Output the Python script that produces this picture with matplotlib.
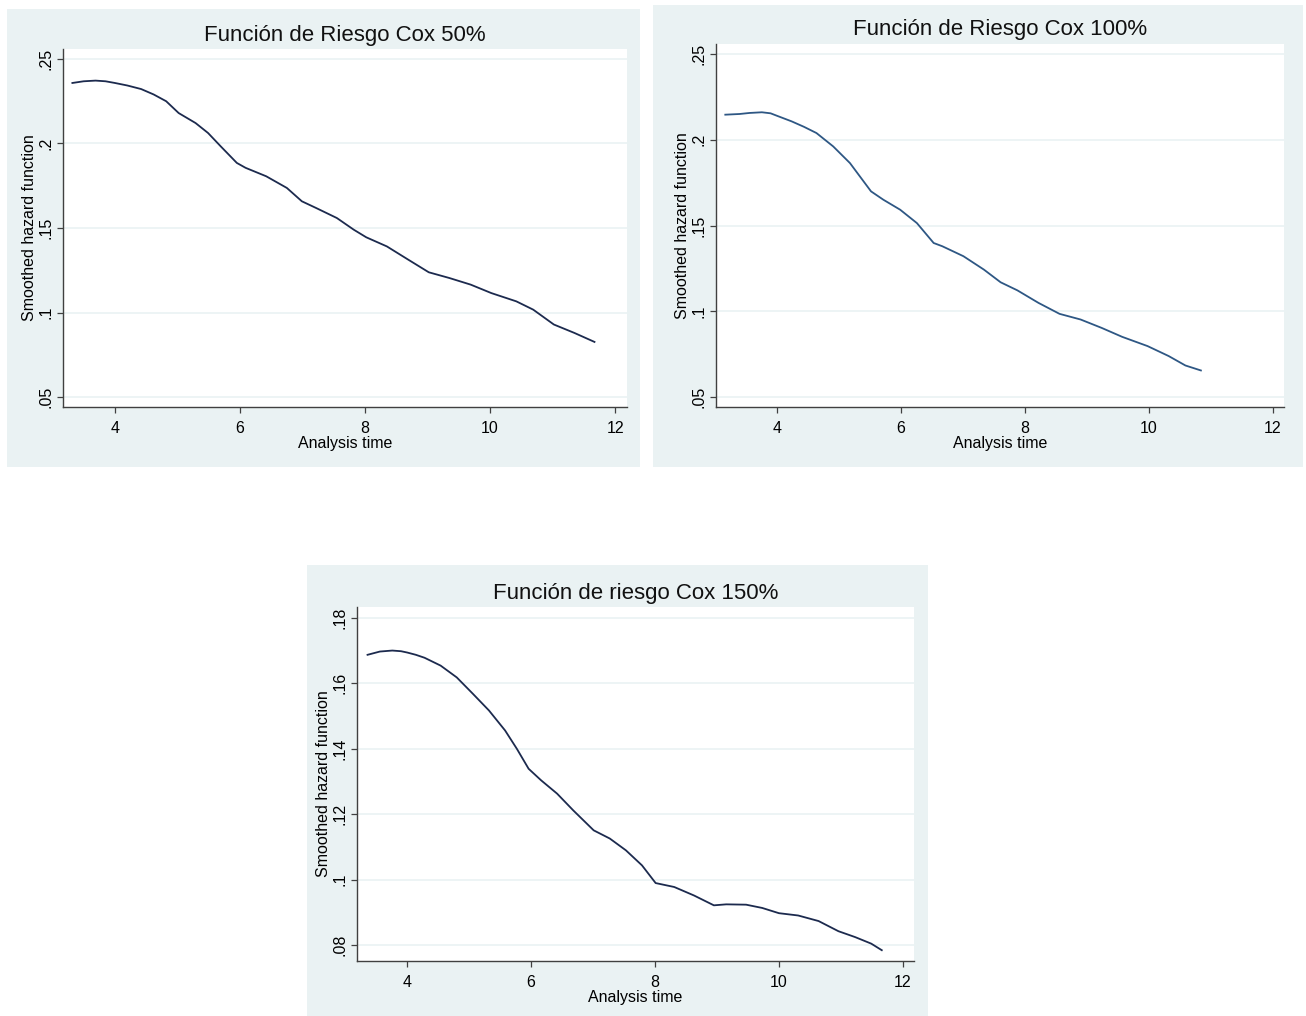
import numpy as np
import matplotlib
matplotlib.use('Agg')
import matplotlib.pyplot as plt
from matplotlib.patches import Rectangle
from matplotlib.ticker import FuncFormatter

plt.rcParams['font.family'] = ['Liberation Sans', 'DejaVu Sans']

# values
t50 = [3.32, 3.50, 3.69, 3.85, 4.0, 4.2, 4.42, 4.62, 4.82, 5.02, 5.29, 5.49, 5.69, 5.95,
       6.09, 6.42, 6.75, 6.99, 7.22, 7.55, 7.82, 8.02, 8.35, 8.69, 9.02, 9.35, 9.69,
       10.02, 10.42, 10.69, 11.02, 11.35, 11.67]
h50 = [.2358, .2368, .2372, .2368, .2358, .2343, .2322, .2290, .2250, .2180, .2121,
       .2062, .1984, .1885, .1856, .1806, .1737, .1658, .1618, .1559, .1490, .1445,
       .1391, .1313, .1238, .1204, .1165, .1115, .1066, .1017, .0929, .0879, .0826]

t100 = [3.17, 3.40, 3.56, 3.76, 3.90, 4.0, 4.24, 4.44, 4.64, 4.91, 5.18, 5.52, 5.72,
        5.99, 6.26, 6.53, 6.67, 7.01, 7.34, 7.61, 7.88, 8.22, 8.56, 8.90, 9.24, 9.57,
        9.98, 10.32, 10.59, 10.84]
h100 = [.2146, .2150, .2156, .2160, .2154, .2140, .2107, .2075, .2039, .1961, .1864,
        .1699, .1650, .1592, .1514, .1398, .1379, .1321, .1243, .1169, .1122, .1049,
        .0985, .0952, .0903, .0851, .0797, .0739, .0684, .0655]

t150 = [3.36, 3.56, 3.76, 3.90, 4.0, 4.14, 4.28, 4.54, 4.80, 5.06, 5.32, 5.58, 5.77,
        5.96, 6.16, 6.42, 6.68, 7.01, 7.27, 7.53, 7.79, 8.01, 8.31, 8.63, 8.95, 9.15,
        9.47, 9.73, 10.0, 10.31, 10.64, 10.96, 11.23, 11.49, 11.66]
h150 = [.1687, .1697, .1700, .1698, .1694, .1687, .1678, .1654, .1618, .1568, .1517,
        .1456, .1400, .1339, .1304, .1263, .1212, .1151, .1126, .1090, .1044, .0990,
        .0978, .0952, .0922, .0925, .0924, .0914, .0898, .0891, .0874, .0843, .0825,
        .0805, .0785]

titles = ['Función de Riesgo Cox 50%', 'Función de Riesgo Cox 100%', 'Función de riesgo Cox 150%']
xticks = [4, 6, 8, 10, 12]
yticks_a = [.05, .1, .15, .2, .25]
yticks_b = [.08, .1, .12, .14, .16, .18]

W, H = 1306, 1016
BG = '#eaf2f3'
fig = plt.figure(figsize=(W / 100, H / 100), dpi=100, facecolor='white')


def px(l, t, r, b):
    return [l / W, 1 - b / H, (r - l) / W, (b - t) / H]


def stata_fmt(v, _):
    s = ('%g' % round(v, 4))
    return s[1:] if s.startswith('0.') else s


panels = [
    # bg box, plot box, xlim, ylim, data, yticks, line colour, title y
    ((7, 9, 640, 467), (63, 49, 627, 407), (3.17, 12.19), (.0441, .2559),
     (t50, h50), yticks_a, '#1c2a4e', 35),
    ((653, 5, 1303, 467), (716, 44, 1284, 407), (3.02, 12.18), (.0442, .2558),
     (t100, h100), yticks_a, '#2e5784', 29),
    ((307, 565, 928, 1016), (357, 607, 914, 961), (3.19, 12.18), (.0752, .1833),
     (t150, h150), yticks_b, '#1c2a4e', 593),
]

for i, (bg, box, xl, yl, (tx, hy), yt, col, ty) in enumerate(panels):
    l, t, r, b = bg
    fig.patches.append(Rectangle((l / W, 1 - b / H), (r - l) / W, (b - t) / H,
                                 transform=fig.transFigure, facecolor=BG,
                                 edgecolor='none', zorder=-10))
    ax = fig.add_axes(px(*box))
    ax.set_zorder(1)
    ax.set_facecolor('white')
    ax.plot(tx, hy, color=col, lw=1.3, solid_joinstyle='round')
    ax.set_xlim(*xl)
    ax.set_ylim(*yl)
    ax.set_xticks(xticks)
    ax.set_yticks(yt)
    ax.yaxis.set_major_formatter(FuncFormatter(stata_fmt))
    ax.grid(axis='y', color=BG, lw=1.2)
    ax.set_axisbelow(True)
    for s in ['top', 'right']:
        ax.spines[s].set_visible(False)
    for s in ['left', 'bottom']:
        ax.spines[s].set_color('#404040')
        ax.spines[s].set_linewidth(1.0)
    ax.tick_params(direction='out', length=4, width=0.9, color='#404040',
                   labelsize=11.5)
    ax.tick_params(axis='x', pad=6)
    ax.tick_params(axis='y', pad=3)
    for lab in ax.get_yticklabels():
        lab.set_rotation(90)
        lab.set_va('center')
    ax.set_xlabel('Analysis time', fontsize=11.5, labelpad=0)
    ax.set_ylabel('Smoothed hazard function', fontsize=11.5, labelpad=1)
    cx = (box[0] + box[2]) / 2
    fig.text(cx / W, 1 - ty / H, titles[i], ha='center', va='center',
             fontsize=16, color='#111111', zorder=5)

fig.savefig('out.png', dpi=100, facecolor='white')
